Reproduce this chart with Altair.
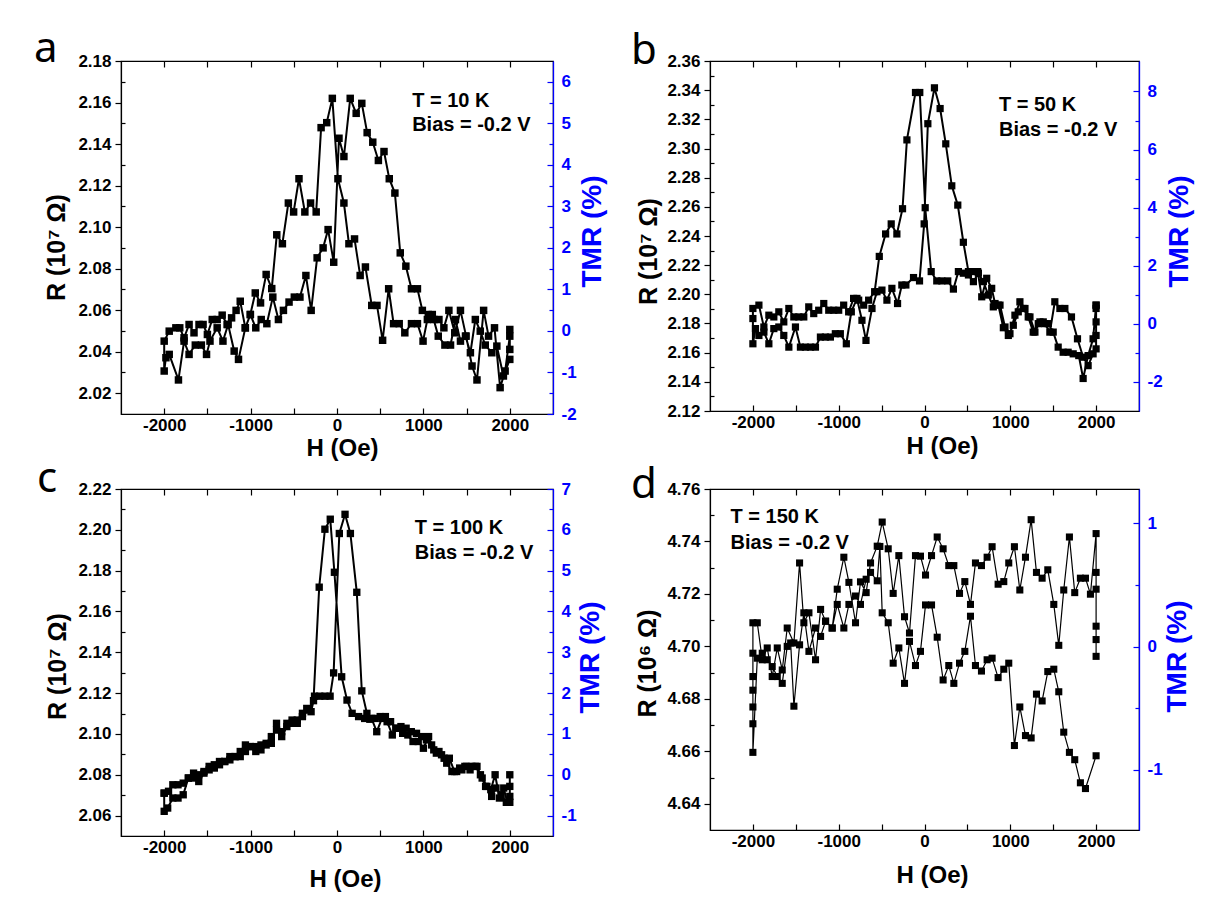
import altair as alt
import pandas as pd

# ---------------- data ----------------
# panel a : T = 10 K  (sweep +2000 -> -2000, then -2000 -> +2000)
A_H = [2000, 1926, 1850, 1792, 1716, 1658, 1601, 1544, 1487, 1429, 1371, 1314, 1249, 1172, 1103, 1046, 996, 931, 862, 785,
       720, 655, 598, 528, 463, 402, 329, 268, 203, 138, 80, 11, -54, -119, -184, -241, -306, -372, -440, -502,
       -563, -632, -697, -755, -820, -885, -946, -1003, -1061, -1120, -1168, -1220, -1272, -1329, -1387, -1444, -1500, -1550, -1597, -1655,
       -1712, -1770, -1820, -1865, -1942, -2000,
       -2000, -1980, -1942, -1835, -1770, -1712, -1640, -1570, -1510, -1470, -1387, -1320, -1260, -1190, -1140, -1061, -1003, -940, -877, -812,
       -743, -678, -620, -555, -494, -429, -360, -299, -230, -161, -103, -38, 23, 80, 153, 222, 287, 349, 414, 479,
       544, 605, 670, 732, 797, 862, 931, 988, 1057, 1122, 1180, 1237, 1295, 1363, 1429, 1494, 1563, 1620, 1697, 1754,
       1823, 1888, 1946, 2000, 2000, 2000]
A_R = [2.0363, 2.0283, 2.0427, 2.0395, 2.0432, 2.0499, 2.0555, 2.0395, 2.0475, 2.0451, 2.0555, 2.0432, 2.0432, 2.0475, 2.0579, 2.0555, 2.0451, 2.0535, 2.0535, 2.0491,
       2.0535, 2.0535, 2.0703, 2.0455, 2.0623, 2.0623, 2.0808, 2.0767, 2.0943, 2.0920, 2.1116, 2.1233, 2.1620, 2.1503, 2.1479, 2.1073, 2.1116, 2.1073, 2.1233, 2.1073,
       2.1116, 2.0920, 2.0963, 2.0704, 2.0772, 2.0635, 2.0683, 2.0579, 2.0515, 2.0643, 2.0599, 2.0563, 2.0531, 2.0576, 2.0555, 2.0555, 2.0483, 2.0531, 2.0531, 2.0491,
       2.0531, 2.0467, 2.0515, 2.0515, 2.0499, 2.0451,
       2.0307, 2.0371, 2.0387, 2.0264, 2.0451, 2.0387, 2.0432, 2.0432, 2.0387, 2.0451, 2.0515, 2.0451, 2.0531, 2.0403, 2.0363, 2.0515, 2.0579, 2.0515, 2.0555, 2.0535,
       2.0663, 2.0555, 2.0599, 2.0639, 2.0663, 2.0663, 2.0767, 2.0599, 2.0852, 2.0900, 2.0988, 2.0831, 2.1428, 2.1340, 2.1620, 2.1548, 2.1596, 2.1455, 2.1409, 2.1321,
       2.1364, 2.1233, 2.1164, 2.0876, 2.0812, 2.0703, 2.0703, 2.0599, 2.0579, 2.0555, 2.0555, 2.0515, 2.0599, 2.0491, 2.0599, 2.0475, 2.0331, 2.0264, 2.0599, 2.0475,
       2.0515, 2.0227, 2.0307, 2.0475, 2.0507, 2.0411]

# panel b : T = 50 K
B_H = [2000, 1965, 1907, 1849, 1798, 1733, 1674, 1616, 1558, 1500, 1442, 1384, 1326, 1267, 1209, 1151, 1093, 1035, 977, 919,
       860, 802, 744, 686, 628, 570, 512, 453, 395, 337, 271, 202, 143, 78, 8, -55, -105, -205, -256, -322,
       -388, -453, -527, -581, -651, -709, -767, -826, -884, -942, -1000, -1058, -1116, -1174, -1233, -1291, -1349, -1407, -1465, -1523,
       -1581, -1640, -1698, -1756, -1814, -1872, -1930, -2000,
       -2000, -2000, -1970, -1930, -1872, -1814, -1756, -1698, -1640, -1581, -1504, -1446, -1388, -1329, -1271, -1213, -1155, -1097, -1039, -981,
       -911, -853, -787, -729, -682, -612, -554, -496, -438, -380, -314, -264, -217, -128, -58, -4, 39, 116, 182, 248,
       318, 388, 453, 512, 570, 620, 667, 725, 783, 822, 880, 938, 996, 1054, 1112, 1171, 1229, 1287, 1345, 1403,
       1461, 1519, 1578, 1636, 1713, 1783, 1849, 1907, 1965, 2000, 2000, 2000, 2000, 2000]
B_R = [2.1926, 2.1695, 2.158, 2.1423, 2.158, 2.1592, 2.1603, 2.1603, 2.1638, 2.1741, 2.1799, 2.1811, 2.1799, 2.1741, 2.1845, 2.1903, 2.188, 2.1788, 2.1718, 2.1771,
       2.1926, 2.1914, 2.1995, 2.2087, 2.2145, 2.2087, 2.2133, 2.2145, 2.2156, 2.2036, 2.2092, 2.2092, 2.2092, 2.2156, 2.2594, 2.3384, 2.3384, 2.3059, 2.2587, 2.2414,
       2.2483, 2.2414, 2.226, 2.2018, 2.196, 2.1926, 2.196, 2.1972, 2.188, 2.1926, 2.1891, 2.1891, 2.1891, 2.1937, 2.1891, 2.1868, 2.1914, 2.1845, 2.1845, 2.1845,
       2.1903, 2.1811, 2.188, 2.1845, 2.1857, 2.1776, 2.1926, 2.1903,
       2.1834, 2.1661, 2.1765, 2.1718, 2.1741, 2.1661, 2.1765, 2.1776, 2.1718, 2.1638, 2.1776, 2.1638, 2.1638, 2.1638, 2.1638, 2.1707, 2.1707, 2.1707, 2.173, 2.173,
       2.1661, 2.188, 2.1972, 2.1822, 2.1684, 2.1903, 2.2018, 2.2029, 2.196, 2.2041, 2.1937, 2.2064, 2.2064, 2.2115, 2.2092, 2.2483, 2.317, 2.3416, 2.3274, 2.3032,
       2.2744, 2.2612, 2.2357, 2.2156, 2.2156, 2.2156, 2.1983, 2.211, 2.2041, 2.1937, 2.1926, 2.1776, 2.173, 2.1857, 2.1949, 2.1903, 2.1845, 2.1741, 2.1811, 2.1799,
       2.1741, 2.1949, 2.1903, 2.1903, 2.1845, 2.1695, 2.1569, 2.1511, 2.1592, 2.1626, 2.1718, 2.1811, 2.1903, 2.1926]

# panel c : T = 100 K
C_H = [2000, 1960, 1900, 1840, 1790, 1735, 1680, 1620, 1560, 1500, 1445, 1385, 1330, 1270, 1210, 1150, 1095, 1035, 980, 920,
       860, 800, 740, 680, 620, 560, 500, 440, 380, 320, 250, 175, 116, 54, -30, -78, -140, -206, -272, -340,
       -400, -460, -520, -580, -640, -700, -760, -820, -880, -940, -1000, -1060, -1120, -1180, -1240, -1300, -1360, -1420, -1480, -1540,
       -1600, -1660, -1720, -1780, -1840, -1900, -1950, -2000,
       -2000, -2000, -1960, -1900, -1840, -1780, -1720, -1660, -1600, -1540, -1480, -1420, -1360, -1300, -1240, -1180, -1120, -1060, -1000, -940,
       -880, -820, -760, -700, -640, -580, -520, -460, -400, -350, -300, -260, -200, -140, -80, -39, 27, 93, 155, 229,
       287, 346, 400, 460, 520, 580, 640, 700, 760, 820, 880, 940, 1000, 1060, 1120, 1180, 1240, 1300, 1360, 1420,
       1480, 1540, 1600, 1660, 1720, 1780, 1830, 1880, 1930, 1970, 2000, 2000, 2000]
C_R = [2.0694, 2.0665, 2.0702, 2.0735, 2.0694, 2.0743, 2.0784, 2.0841, 2.0841, 2.0841, 2.0824, 2.0816, 2.0816, 2.0857, 2.0898, 2.0906, 2.0946, 2.0971, 2.0987, 2.1003,
       2.1011, 2.1028, 2.1036, 2.1028, 2.106, 2.1085, 2.1085, 2.1076, 2.1072, 2.1076, 2.1085, 2.1101, 2.1166, 2.128, 2.1792, 2.2052, 2.2003, 2.1719, 2.1163, 2.1117,
       2.1085, 2.1052, 2.1052, 2.1036, 2.0987, 2.1019, 2.0987, 2.0954, 2.0946, 2.0914, 2.0938, 2.0914, 2.0889, 2.0889, 2.0873, 2.0865, 2.0849, 2.0833, 2.0824, 2.0816,
       2.08, 2.0784, 2.0784, 2.0759, 2.0751, 2.0751, 2.0719, 2.071,
       2.071, 2.0621, 2.0637, 2.0686, 2.0686, 2.0702, 2.0784, 2.0808, 2.0767, 2.0808, 2.0841, 2.0849, 2.0865, 2.0865, 2.0889, 2.0889, 2.0914, 2.0946, 2.0938, 2.0938,
       2.0922, 2.0946, 2.0954, 2.1052, 2.1011, 2.1052, 2.1068, 2.1068, 2.1101, 2.1125, 2.1109, 2.1185, 2.1185, 2.1185, 2.1185, 2.1299, 2.1982, 2.2076, 2.1982, 2.1694,
       2.1211, 2.1101, 2.1076, 2.1011, 2.1076, 2.106, 2.0995, 2.1028, 2.1003, 2.0995, 2.0963, 2.0963, 2.093, 2.0987, 2.0922, 2.0914, 2.0881, 2.0881, 2.0816, 2.0833,
       2.0841, 2.0824, 2.0841, 2.08, 2.0743, 2.0727, 2.08, 2.0686, 2.0735, 2.0665, 2.0665, 2.0743, 2.08]

# panel d : T = 150 K
D_H = [2000, 2000, 2000, 2000, 2000, 2000, 1934, 1876, 1817, 1751, 1689, 1623, 1565, 1507, 1437, 1371, 1305, 1243, 1177, 1111,
       1048, 982, 924, 858, 788, 730, 664, 594, 536, 470, 408, 342, 283, 217, 148, 82, 12, -47, -105, -175,
       -233, -299, -365, -423, -493, -551, -629, -680, -746, -804, -881, -940, -1017, -1076, -1153, -1211, -1270, -1347, -1406, -1456,
       -1522, -1600, -1658, -1716, -1775, -1833, -1891, -1949, -2000, -2000, -2000, -2000, -2000, -2000, -2000,
       -1949, -1891, -1833, -1775, -1716, -1658, -1600, -1560, -1522, -1456, -1406, -1347, -1270, -1211, -1153, -1076, -1017, -940, -881, -804,
       -746, -680, -629, -551, -520, -493, -423, -365, -299, -233, -175, -105, -47, 12, 82, 148, 217, 283, 342, 408,
       470, 536, 594, 664, 730, 788, 858, 924, 982, 1048, 1111, 1177, 1243, 1305, 1371, 1437, 1507, 1565, 1623, 1689,
       1751, 1817, 1876, 2000]
D_R = [4.6962, 4.7026, 4.7077, 4.7218, 4.7282, 4.743, 4.7199, 4.726, 4.726, 4.7205, 4.7417, 4.7215, 4.7004, 4.716, 4.7292, 4.726, 4.7282, 4.7483, 4.734, 4.7215,
       4.738, 4.7318, 4.7247, 4.7237, 4.738, 4.734, 4.7308, 4.7318, 4.716, 4.7247, 4.7202, 4.7308, 4.7308, 4.7372, 4.7417, 4.7346, 4.7272, 4.7344, 4.7346, 4.7051,
       4.7113, 4.7346, 4.7202, 4.7372, 4.7474, 4.7382, 4.7318, 4.7205, 4.7246, 4.709, 4.7244, 4.734, 4.7218, 4.707, 4.7096, 4.7141, 4.6949, 4.7128, 4.709, 4.7318,
       4.7013, 4.707, 4.691, 4.6994, 4.6885, 4.6994, 4.6949, 4.709, 4.709, 4.6974, 4.6885, 4.6833, 4.6769, 4.6705, 4.6596,
       4.6955, 4.6974, 4.6949, 4.6923, 4.6885, 4.6859, 4.7, 4.7013, 4.6772, 4.7006, 4.7128, 4.6981, 4.707, 4.7038, 4.7096, 4.707, 4.716, 4.707, 4.716, 4.7192,
       4.716, 4.7256, 4.7282, 4.725, 4.7381, 4.7128, 4.709, 4.6936, 4.6994, 4.6859, 4.7019, 4.6927, 4.6981, 4.7158, 4.7158, 4.7035, 4.6872, 4.6927, 4.6859, 4.6936,
       4.6981, 4.7115, 4.6927, 4.6906, 4.6949, 4.6955, 4.6881, 4.6913, 4.6936, 4.6622, 4.6769, 4.666, 4.6651, 4.6818, 4.6792, 4.6904, 4.6913, 4.6827, 4.6673, 4.6596,
       4.6568, 4.648, 4.6458, 4.6583]

# axis ticks
X_LABELS = [-2000, -1000, 0, 1000, 2000]
X_TICKS = [-2000, -1500, -1000, -500, 0, 500, 1000, 1500, 2000]

A_R_MAJOR = [2.02, 2.04, 2.06, 2.08, 2.10, 2.12, 2.14, 2.16, 2.18]
A_R_MINOR = [2.03, 2.05, 2.07, 2.09, 2.11, 2.13, 2.15, 2.17]
A_T_MAJOR = [-2, -1, 0, 1, 2, 3, 4, 5, 6]
A_T_MINOR = [-1.5, -0.5, 0.5, 1.5, 2.5, 3.5, 4.5, 5.5]

B_R_MAJOR = [2.12, 2.14, 2.16, 2.18, 2.20, 2.22, 2.24, 2.26, 2.28, 2.30, 2.32, 2.34, 2.36]
B_R_MINOR = [2.13, 2.15, 2.17, 2.19, 2.21, 2.23, 2.25, 2.27, 2.29, 2.31, 2.33, 2.35]
B_T_MAJOR = [-2, 0, 2, 4, 6, 8]
B_T_MINOR = [-1, 1, 3, 5, 7]

C_R_MAJOR = [2.06, 2.08, 2.10, 2.12, 2.14, 2.16, 2.18, 2.20, 2.22]
C_R_MINOR = [2.07, 2.09, 2.11, 2.13, 2.15, 2.17, 2.19, 2.21]
C_T_MAJOR = [-1, 0, 1, 2, 3, 4, 5, 6, 7]
C_T_MINOR = [-0.5, 0.5, 1.5, 2.5, 3.5, 4.5, 5.5, 6.5]

D_R_MAJOR = [4.64, 4.66, 4.68, 4.70, 4.72, 4.74, 4.76]
D_R_MINOR = [4.65, 4.67, 4.69, 4.71, 4.73, 4.75]
D_T_MAJOR = [-1, 0, 1]
D_T_MINOR = [-0.5, 0.5]

FONT = "Liberation Sans"
BLUE = "#0000ff"
MINUS_FIX = "replace(datum.label, '\u2212', '-')"


def panel(H, R, letter, r_title, r_dom, r_major, r_minor, t_dom, t_major, t_minor,
          notes, W, Ht, lw, msize, geo):
    df = pd.DataFrame({"H": H, "R": R, "i": list(range(len(H)))})
    xs = alt.Scale(domain=[-2500, 2500], nice=False, zero=False)
    rs = alt.Scale(domain=r_dom, nice=False, zero=False)
    ts = alt.Scale(domain=t_dom, nice=False, zero=False)
    base = alt.Chart(df)

    line = base.mark_line(color="black", strokeWidth=lw).encode(
        x=alt.X("H:Q", scale=xs, axis=alt.Axis(
            orient="bottom", values=X_LABELS, format="d", labelExpr=MINUS_FIX,
            ticks=False, tickSize=0, domain=False, grid=False,
            labelPadding=3, labelFontSize=17,
            title="H (Oe)", titleFontSize=24, titleX=geo["hx"], titleY=geo["hy"],
            titleBaseline="middle", titleAlign="center")),
        y=alt.Y("R:Q", scale=rs, axis=alt.Axis(
            orient="left", values=r_major, format=".2f",
            tickSize=6, tickWidth=1.2, tickColor="black",
            domain=True, domainColor="black", domainWidth=1.2, grid=False,
            labelPadding=4, labelFontSize=17,
            title=r_title, titleFontSize=25, titleAngle=270,
            titleX=geo["rx"], titleY=geo["ry"], titleBaseline="middle",
            titleAlign="center")),
        order="i:Q")

    pts = base.mark_square(size=msize, color="black", opacity=1).encode(
        x=alt.X("H:Q", scale=xs, axis=alt.Axis(
            orient="top", offset=-Ht, values=X_TICKS, labels=False, domain=False,
            grid=False, tickSize=6, tickWidth=1.2, tickColor="black", title=None)),
        y=alt.Y("R:Q", scale=rs, axis=alt.Axis(
            orient="right", offset=-W, values=r_minor, labels=False, domain=False,
            grid=False, tickSize=4, tickWidth=1.2, tickColor="black", title=None)))

    tdf = pd.DataFrame({"H": [0] * len(t_major), "T": t_major})
    tmr = alt.Chart(tdf).mark_point(opacity=0).encode(
        x=alt.X("H:Q", scale=xs, axis=alt.Axis(
            orient="bottom", offset=-Ht, values=X_TICKS, labels=False, domain=False,
            grid=False, tickSize=6, tickWidth=1.2, tickColor="black", title=None)),
        y=alt.Y("T:Q", scale=ts, axis=alt.Axis(
            orient="right", values=t_major, format="d", labelExpr=MINUS_FIX,
            ticks=False, tickSize=0, domain=True, domainColor=BLUE, domainWidth=1.3,
            grid=False, labelColor=BLUE, labelPadding=8, labelFontSize=17,
            title="TMR (%)", titleColor=BLUE, titleFontSize=28, titleAngle=270,
            titleX=geo["tx"], titleY=geo["ty"], titleBaseline="middle",
            titleAlign="center")))

    tk1 = alt.Chart(tdf).mark_point(opacity=0).encode(
        x=alt.X("H:Q", scale=xs, axis=None),
        y=alt.Y("T:Q", scale=ts, axis=alt.Axis(
            orient="left", offset=-W, values=t_major, labels=False, domain=False,
            grid=False, tickSize=6, tickWidth=1.2, tickColor=BLUE, title=None)))
    tk2 = alt.Chart(tdf).mark_point(opacity=0).encode(
        x=alt.X("H:Q", scale=xs, axis=None),
        y=alt.Y("T:Q", scale=ts, axis=alt.Axis(
            orient="left", offset=-W, values=t_minor, labels=False, domain=False,
            grid=False, tickSize=4, tickWidth=1.2, tickColor=BLUE, title=None)))

    ndf = pd.DataFrame({"txt": notes[0], "H": notes[1], "R": notes[2]})
    note = alt.Chart(ndf).mark_text(
        align="left", baseline="alphabetic", font=FONT, fontSize=20,
        fontWeight="bold", color="black").encode(
        x=alt.X("H:Q", scale=xs, axis=None),
        y=alt.Y("R:Q", scale=rs, axis=None),
        text="txt:N")

    return alt.layer(line, pts, tmr, tk1, tk2, note).resolve_scale(
        x="independent", y="independent").resolve_axis(
        x="independent", y="independent").properties(
        width=W, height=Ht,
        title=alt.TitleParams(text=letter, anchor="start", frame="group", orient="top",
                              font="Noto Sans", fontSize=42, fontWeight="normal",
                              color="black", dx=geo["ldx"], dy=geo["ldy"], offset=0,
                              baseline="alphabetic"))


pa = panel(A_H, A_R, "a", "R (10\u2077 \u03a9)", [2.01, 2.18], A_R_MAJOR, A_R_MINOR,
           [-2, 6.5], A_T_MAJOR, A_T_MINOR,
           (["T = 10 K", "Bias = -0.2 V"], [870, 870], [2.1578, 2.1462]),
           432, 353, 2, 56,
           dict(hx=221, hy=34, rx=-65, ry=186, tx=39, ty=170, ldx=-87, ldy=52))
pb = panel(B_H, B_R, "b", "R (10\u2077 \u03a9)", [2.12, 2.36], B_R_MAJOR, B_R_MINOR,
           [-3, 9.05], B_T_MAJOR, B_T_MINOR,
           (["T = 50 K", "Bias = -0.2 V"], [868, 868], [2.326, 2.3087]),
           429, 350, 2, 52,
           dict(hx=232, hy=35, rx=-62, ry=190, tx=40, ty=170, ldx=-79, ldy=54))
pc = panel(C_H, C_R, "c", "R (10\u2077 \u03a9)", [2.05, 2.22], C_R_MAJOR, C_R_MINOR,
           [-1.5, 7], C_T_MAJOR, C_T_MINOR,
           (["T = 100 K", "Bias = -0.2 V"], [901, 901], [2.1979, 2.1857]),
           432, 347, 2, 54,
           dict(hx=224, hy=43, rx=-64, ry=177, tx=37, ty=168, ldx=-84, ldy=54))
pd_ = panel(D_H, D_R, "d", "R (10\u2076 \u03a9)", [4.63, 4.76], D_R_MAJOR, D_R_MINOR,
            [-1.49, 1.28], D_T_MAJOR, D_T_MINOR,
            (["T = 150 K", "Bias = -0.2 V"], [-2261, -2261], [4.747, 4.7372]),
            429, 341, 1.2, 50,
            dict(hx=222, hy=45, rx=-63, ry=174, tx=38, ty=167, ldx=-79, ldy=60))

chart = alt.concat(pa, pb, pc, pd_, columns=2,
                   spacing={"row": 75, "column": 157}, bounds="flush").properties(
    padding={"left": 25, "top": 19, "right": 5, "bottom": 5},
    background="white",
).configure_view(stroke="black", strokeWidth=1.2).configure_axis(
    labelFont=FONT, labelFontWeight="bold", labelColor="black",
    titleFont=FONT, titleFontWeight="bold", titleColor="black")

chart.save("out.html", embed_options={"renderer": "svg", "actions": False})
